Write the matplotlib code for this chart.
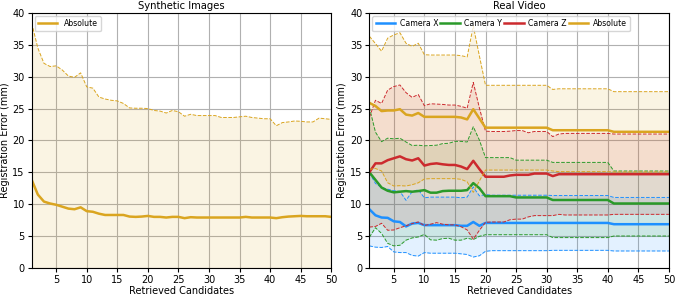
import matplotlib
matplotlib.use("Agg")
import matplotlib.pyplot as plt
import numpy as np

# retrieved candidates 1..50
candidates = list(range(1, 51))

# synthetic images, absolute error (mean / std)
syn_abs_mean = [13.8, 11.5, 10.4, 10.1, 9.9, 9.6, 9.3, 9.2, 9.5, 8.9,
                8.8, 8.5, 8.3, 8.3, 8.3, 8.3, 8.05, 8.0, 8.05, 8.15,
                8.0, 8.0, 7.9, 8.0, 8.0, 7.8, 7.95, 7.9, 7.9, 7.9,
                7.9, 7.9, 7.9, 7.9, 7.9, 8.0, 7.9, 7.9, 7.9, 7.9,
                7.8, 7.95, 8.05, 8.1, 8.15, 8.1, 8.1, 8.1, 8.1, 8.0]
syn_abs_std = [24.6, 23.0, 21.7, 21.5, 21.8, 21.45, 20.8, 20.7, 21.1, 19.5,
               19.4, 18.3, 18.2, 18.0, 17.9, 17.5, 17.05, 17.05, 17.0, 16.85,
               16.7, 16.6, 16.4, 16.7, 16.5, 16.0, 16.15, 16.0, 16.0, 16.0,
               16.0, 15.7, 15.7, 15.7, 15.8, 15.8, 15.7, 15.6, 15.5, 15.5,
               14.5, 14.85, 14.85, 14.95, 14.85, 14.8, 14.8, 15.4, 15.3, 15.3]

# real video
camx_mean = [9.2, 8.25, 7.9, 7.85, 7.3, 7.2, 6.5, 6.95, 7.05, 6.7,
             6.7, 6.7, 6.7, 6.7, 6.7, 6.6, 6.6, 7.2, 6.6, 7.05,
             7.05, 7.05, 7.05, 7.05, 7.05, 7.05, 7.05, 7.05, 7.05, 7.05,
             7.05, 7.05, 7.05, 7.05, 7.05, 7.05, 7.05, 7.05, 7.05, 7.05,
             6.85, 6.85, 6.85, 6.85, 6.85, 6.85, 6.85, 6.85, 6.85, 6.85]
camx_std = [5.75, 5.0, 4.7, 4.5, 4.8, 4.8, 4.1, 5.0, 5.2, 4.3,
            4.4, 4.4, 4.4, 4.4, 4.4, 4.4, 4.5, 5.5, 4.7, 4.45,
            4.35, 4.35, 4.35, 4.35, 4.35, 4.35, 4.35, 4.35, 4.35, 4.35,
            4.3, 4.3, 4.3, 4.3, 4.3, 4.3, 4.3, 4.3, 4.3, 4.3,
            4.2, 4.2, 4.2, 4.2, 4.2, 4.2, 4.2, 4.2, 4.2, 4.2]

camy_mean = [15.0, 13.8, 12.6, 12.1, 11.85, 11.95, 12.05, 11.95, 12.05, 12.2,
             11.8, 11.8, 12.05, 12.1, 12.1, 12.1, 12.2, 13.3, 12.5, 11.25,
             11.25, 11.25, 11.25, 11.25, 11.05, 11.05, 11.05, 11.05, 11.05, 11.05,
             10.65, 10.65, 10.65, 10.65, 10.65, 10.65, 10.65, 10.65, 10.65, 10.65,
             10.1, 10.1, 10.1, 10.1, 10.1, 10.1, 10.1, 10.1, 10.1, 10.1]
camy_std = [10.2, 7.5, 7.2, 8.25, 8.4, 8.4, 7.7, 7.25, 7.2, 6.95,
            7.4, 7.45, 7.45, 7.45, 7.75, 7.75, 7.55, 8.85, 7.55, 6.05,
            6.05, 6.05, 6.05, 6.05, 5.85, 5.85, 5.85, 5.85, 5.85, 5.85,
            5.9, 5.9, 5.9, 5.9, 5.9, 5.9, 5.9, 5.9, 5.9, 5.9,
            5.1, 5.1, 5.1, 5.1, 5.1, 5.1, 5.1, 5.1, 5.1, 5.1]

camz_mean = [15.0, 16.4, 16.4, 16.9, 17.2, 17.5, 17.05, 16.85, 17.2, 16.05,
             16.3, 16.4, 16.25, 16.15, 16.15, 15.9, 15.5, 16.8, 15.5, 14.3,
             14.3, 14.3, 14.3, 14.5, 14.6, 14.6, 14.6, 14.8, 14.8, 14.8,
             14.4, 14.7, 14.7, 14.7, 14.7, 14.7, 14.7, 14.7, 14.7, 14.7,
             14.7, 14.7, 14.7, 14.7, 14.7, 14.7, 14.7, 14.7, 14.7, 14.7]
camz_std = [8.6, 9.9, 9.4, 11.0, 11.25, 11.2, 10.45, 9.9, 10.0, 9.4,
            9.45, 9.3, 9.4, 9.4, 9.4, 9.45, 9.55, 12.3, 9.6, 7.15,
            7.1, 7.1, 7.1, 6.95, 6.95, 6.95, 6.6, 6.6, 6.6, 6.6,
            6.2, 6.3, 6.4, 6.4, 6.4, 6.4, 6.4, 6.4, 6.4, 6.4,
            6.3, 6.3, 6.3, 6.3, 6.3, 6.3, 6.3, 6.3, 6.3, 6.3]

abs_mean = [25.9, 25.4, 24.6, 24.7, 24.7, 24.9, 24.05, 23.9, 24.3, 23.7,
            23.7, 23.7, 23.7, 23.7, 23.7, 23.6, 23.3, 24.9, 23.45, 22.0,
            22.0, 22.0, 22.0, 22.0, 22.0, 22.0, 22.0, 22.0, 22.0, 22.0,
            21.6, 21.6, 21.6, 21.6, 21.6, 21.6, 21.6, 21.6, 21.6, 21.6,
            21.35, 21.35, 21.35, 21.35, 21.35, 21.35, 21.35, 21.35, 21.35, 21.35]
abs_std = [10.45, 9.8, 9.4, 11.35, 11.85, 12.0, 11.2, 10.85, 10.95, 9.75,
           9.7, 9.7, 9.7, 9.7, 9.7, 9.7, 9.8, 13.05, 9.8, 6.65,
           6.65, 6.65, 6.65, 6.65, 6.65, 6.65, 6.65, 6.65, 6.65, 6.65,
           6.4, 6.5, 6.5, 6.5, 6.5, 6.5, 6.5, 6.5, 6.5, 6.5,
           6.3, 6.3, 6.3, 6.3, 6.3, 6.3, 6.3, 6.3, 6.3, 6.3]

real_series = [
    ("Camera X", camx_mean, camx_std, "#1e90ff"),
    ("Camera Y", camy_mean, camy_std, "#2a9a2a"),
    ("Camera Z", camz_mean, camz_std, "#cc2a2e"),
    ("Absolute", abs_mean, abs_std, "#daa520"),
]

plt.rcParams["font.size"] = 7


def draw_band(ax, x, mean, std, color, label):
    mean = np.array(mean)
    std = np.array(std)
    lo = mean - std
    hi = mean + std
    ax.fill_between(x, lo, hi, color=color, alpha=0.12, linewidth=0)
    ax.plot(x, lo, "--", color=color, lw=0.7)
    ax.plot(x, hi, "--", color=color, lw=0.7)
    ax.plot(x, mean, "-", color=color, lw=1.8, label=label)


def style(ax, title):
    ax.set_xlim(1, 50)
    ax.set_ylim(0, 40)
    ax.set_xticks(range(5, 51, 5))
    ax.set_yticks(range(0, 41, 5))
    ax.grid(True, color="#b0b0b0", lw=0.8)
    ax.set_axisbelow(True)
    ax.set_title(title, fontsize=7.2, pad=3)
    ax.set_xlabel("Retrieved Candidates", fontsize=7, labelpad=1)
    ax.set_ylabel("Registration Error (mm)", fontsize=7, labelpad=2)
    ax.tick_params(labelsize=7, length=3, pad=2)


fig, (ax1, ax2) = plt.subplots(1, 2, figsize=(6.75, 2.95), dpi=100)
fig.subplots_adjust(left=0.047, right=0.991, bottom=0.092, top=0.956, wspace=0.127)

draw_band(ax1, candidates, syn_abs_mean, syn_abs_std, "#daa520", "Absolute")
style(ax1, "Synthetic Images")
ax1.legend(loc="upper left", fontsize=5.6, handlelength=2.5, borderaxespad=0.4)

for name, m, s, c in real_series:
    draw_band(ax2, candidates, m, s, c, name)
style(ax2, "Real Video")
ax2.legend(loc="upper left", ncol=4, fontsize=5.6, handlelength=2.5,
           columnspacing=0.25, handletextpad=0.6, borderaxespad=0.4)

fig.savefig("out.png", dpi=100)
